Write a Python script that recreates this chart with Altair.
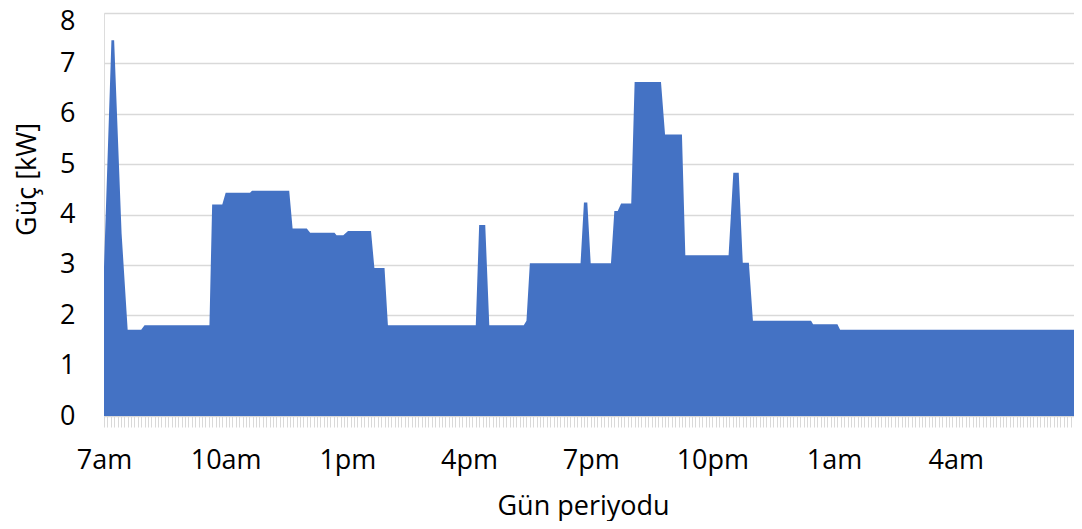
import altair as alt
import pandas as pd

# Time of day (HH:MM) of each vertex of the load profile
times = [
    "07:00", "07:11", "07:15", "07:26", "07:35", "07:55", "08:00", "09:36",
    "09:40", "09:55", "10:00", "10:36", "10:39", "11:34", "11:39", "12:00",
    "12:05", "12:41", "12:44", "12:54", "13:01", "13:35", "13:40", "13:55",
    "14:00", "16:10", "16:15", "16:24", "16:30", "17:21", "17:25", "17:30",
    "18:45", "18:50", "18:55", "19:00", "19:30", "19:35", "19:40", "19:45",
    "20:00", "20:05", "20:44", "20:50", "21:15", "21:20", "22:24", "22:31",
    "22:39", "22:45", "22:54", "23:00", "00:26", "00:29", "01:05", "01:09",
    "06:55",
]
# Power in kW at each vertex
power_kw = [
    2.96, 7.46, 7.46, 3.63, 1.71, 1.71, 1.80, 1.80,
    4.20, 4.20, 4.43, 4.43, 4.47, 4.47, 3.72, 3.72,
    3.64, 3.64, 3.59, 3.59, 3.67, 3.67, 2.94, 2.94,
    1.80, 1.80, 3.79, 3.79, 1.80, 1.80, 1.89, 3.03,
    3.03, 4.24, 4.24, 3.03, 3.03, 4.07, 4.07, 4.22,
    4.22, 6.63, 6.63, 5.59, 5.59, 3.19, 3.19, 4.83,
    4.83, 3.04, 3.04, 1.89, 1.89, 1.82, 1.82, 1.71,
    1.71,
]
tick_labels = ["7am", "10am", "1pm", "4pm", "7pm", "10pm", "1am", "4am"]
y_ticks = [0, 1, 2, 3, 4, 5, 6, 7, 8]


def minutes_after_7(s):
    h, m = map(int, s.split(":"))
    t = h * 60 + m - 420
    if t < 0:
        t += 1440
    return t


df = pd.DataFrame({"t": [minutes_after_7(s) for s in times], "kw": power_kw})

FONT = "Open Sans"
FS = 27
GRID = "#d9d9d9"

label_js = "[" + ",".join(f"'{l}'" for l in tick_labels) + "]"

x_axis = alt.Axis(
    values=list(range(0, 1436, 5)),
    labelExpr=f"datum.value % 180 == 0 ? {label_js}[datum.value / 180] : ''",
    labelOverlap=False,
    labelFlush=False,
    labelBound=False,
    labelFont=FONT,
    labelFontSize=FS,
    labelColor="#000000",
    labelBaseline="alphabetic",
    labelPadding=41,
    tickSize=11,
    tickColor=GRID,
    tickWidth=1,
    domainColor=GRID,
    domainWidth=1,
    grid=False,
    title="Gün periyodu",
    titleFont=FONT,
    titleFontSize=FS,
    titleFontWeight="normal",
    titleColor="#000000",
    titleBaseline="alphabetic",
    titleAlign="center",
    titleX=479,
    titleY=98,
)

y_axis = alt.Axis(
    values=y_ticks,
    format="d",
    labelFont=FONT,
    labelFontSize=FS,
    labelColor="#000000",
    labelPadding=29,
    labelOffset={"condition": {"test": "datum.value == 8", "value": 8}, "value": 0},
    ticks=False,
    tickSize=0,
    domain=False,
    grid=True,
    gridColor=GRID,
    gridWidth=1.3,
    title="Güç [kW]",
    titleFont=FONT,
    titleFontSize=FS,
    titleFontWeight="normal",
    titleColor="#000000",
    titleAngle=-90,
    titleAlign="center",
    titleBaseline="middle",
    titleX=-77,
    titleY=166,
)

chart = (
    alt.Chart(df)
    .mark_area(color="#4472C4", interpolate="linear", opacity=1)
    .encode(
        x=alt.X("t:Q", scale=alt.Scale(domain=[0, 1435], nice=False, zero=False), axis=x_axis),
        y=alt.Y("kw:Q", scale=alt.Scale(domain=[0, 8], nice=False), axis=y_axis),
    )
    .properties(
        width=970,
        height=403,
        autosize=alt.AutoSizeParams(type="none"),
        padding={"left": 96, "top": 5, "right": 0, "bottom": 105},
    )
    .configure_view(stroke=None)
    .configure(background="white")
)

chart.save("out.html", embed_options={"renderer": "svg", "actions": False})
